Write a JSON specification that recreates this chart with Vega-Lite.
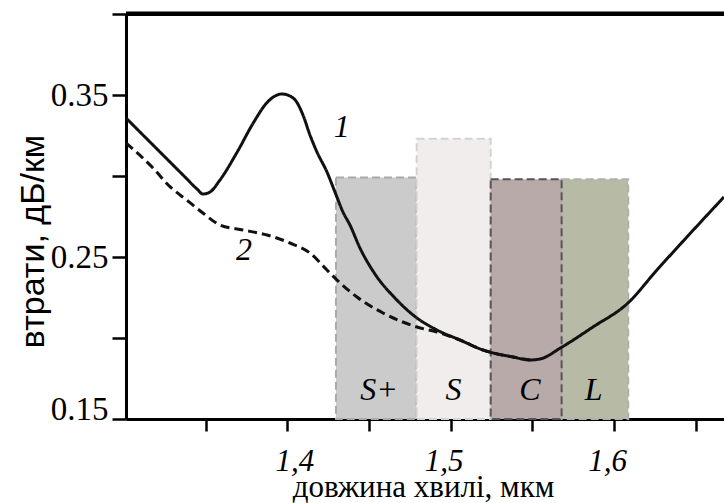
{
  "$schema": "https://vega.github.io/schema/vega-lite/v6.json",
  "autosize": {"type": "none"},
  "padding": {"left": 126, "top": 14, "right": 0, "bottom": 84},
  "width": 598,
  "height": 405,
  "background": "white",
  "config": {"view": {"stroke": null}},
  "datasets": {
    "bands": [
      {"band": "S+", "x0": 1.4298, "x1": 1.4792, "top": 0.299},
      {"band": "S", "x0": 1.4792, "x1": 1.5245, "top": 0.323},
      {"band": "L", "x0": 1.5679, "x1": 1.6087, "top": 0.298},
      {"band": "C", "x0": 1.5245, "x1": 1.5679, "top": 0.298}
    ],
    "curves": [
      {"curve": "1", "lambda": 1.30129, "loss": 0.3358},
      {"curve": "1", "lambda": 1.31291, "loss": 0.32407},
      {"curve": "1", "lambda": 1.32515, "loss": 0.31173},
      {"curve": "1", "lambda": 1.33739, "loss": 0.29938},
      {"curve": "1", "lambda": 1.34474, "loss": 0.29198},
      {"curve": "1", "lambda": 1.34841, "loss": 0.28889},
      {"curve": "1", "lambda": 1.35269, "loss": 0.29012},
      {"curve": "1", "lambda": 1.35881, "loss": 0.29753},
      {"curve": "1", "lambda": 1.36903, "loss": 0.3142},
      {"curve": "1", "lambda": 1.37919, "loss": 0.33272},
      {"curve": "1", "lambda": 1.38739, "loss": 0.34506},
      {"curve": "1", "lambda": 1.39247, "loss": 0.34938},
      {"curve": "1", "lambda": 1.39676, "loss": 0.35062},
      {"curve": "1", "lambda": 1.40165, "loss": 0.34938},
      {"curve": "1", "lambda": 1.40532, "loss": 0.3463},
      {"curve": "1", "lambda": 1.40961, "loss": 0.33765},
      {"curve": "1", "lambda": 1.41389, "loss": 0.32531},
      {"curve": "1", "lambda": 1.41818, "loss": 0.31481},
      {"curve": "1", "lambda": 1.4243, "loss": 0.30247},
      {"curve": "1", "lambda": 1.42919, "loss": 0.29012},
      {"curve": "1", "lambda": 1.43409, "loss": 0.27778},
      {"curve": "1", "lambda": 1.43837, "loss": 0.26975},
      {"curve": "1", "lambda": 1.44449, "loss": 0.25556},
      {"curve": "1", "lambda": 1.45367, "loss": 0.23951},
      {"curve": "1", "lambda": 1.46591, "loss": 0.22469},
      {"curve": "1", "lambda": 1.47938, "loss": 0.21235},
      {"curve": "1", "lambda": 1.49162, "loss": 0.20494},
      {"curve": "1", "lambda": 1.50569, "loss": 0.19877},
      {"curve": "1", "lambda": 1.51977, "loss": 0.19259},
      {"curve": "1", "lambda": 1.53813, "loss": 0.18827},
      {"curve": "1", "lambda": 1.54853, "loss": 0.18642},
      {"curve": "1", "lambda": 1.55465, "loss": 0.18704},
      {"curve": "1", "lambda": 1.56812, "loss": 0.19444},
      {"curve": "1", "lambda": 1.58709, "loss": 0.20679},
      {"curve": "1", "lambda": 1.60851, "loss": 0.2216},
      {"curve": "1", "lambda": 1.62626, "loss": 0.24198},
      {"curve": "1", "lambda": 1.64461, "loss": 0.26235},
      {"curve": "1", "lambda": 1.66727, "loss": 0.28704},
      {"curve": "2", "lambda": 1.30129, "loss": 0.32037},
      {"curve": "2", "lambda": 1.31781, "loss": 0.30494},
      {"curve": "2", "lambda": 1.32821, "loss": 0.2934},
      {"curve": "2", "lambda": 1.33843, "loss": 0.28519},
      {"curve": "2", "lambda": 1.34859, "loss": 0.27698},
      {"curve": "2", "lambda": 1.35881, "loss": 0.26975},
      {"curve": "2", "lambda": 1.37289, "loss": 0.26667},
      {"curve": "2", "lambda": 1.38758, "loss": 0.26358},
      {"curve": "2", "lambda": 1.40165, "loss": 0.25864},
      {"curve": "2", "lambda": 1.41389, "loss": 0.25247},
      {"curve": "2", "lambda": 1.4243, "loss": 0.24198},
      {"curve": "2", "lambda": 1.43042, "loss": 0.2358},
      {"curve": "2", "lambda": 1.44266, "loss": 0.22531},
      {"curve": "2", "lambda": 1.45857, "loss": 0.21543},
      {"curve": "2", "lambda": 1.47938, "loss": 0.20679},
      {"curve": "2", "lambda": 1.49162, "loss": 0.2037},
      {"curve": "2", "lambda": 1.50569, "loss": 0.19877},
      {"curve": "2", "lambda": 1.51977, "loss": 0.19259},
      {"curve": "2", "lambda": 1.53813, "loss": 0.18827},
      {"curve": "2", "lambda": 1.54853, "loss": 0.18642}
    ],
    "labels": [
      {"text": "S+", "lx": 1.4562, "ly": 0.168},
      {"text": "S", "lx": 1.5018, "ly": 0.168},
      {"text": "C", "lx": 1.5485, "ly": 0.168},
      {"text": "L", "lx": 1.5875, "ly": 0.168},
      {"text": "1", "lx": 1.4333, "ly": 0.33},
      {"text": "2", "lx": 1.3735, "ly": 0.2543}
    ],
    "frame": [{"edge": 0.399, "a": 1.3013, "b": 1.6673}]
  },
  "layer": [
    {
      "data": {"name": "bands"},
      "mark": {"type": "rect", "strokeDash": [8, 4], "strokeWidth": 2},
      "encoding": {
        "x": {
          "field": "x0", "type": "quantitative",
          "scale": {"domain": [1.3013, 1.6673], "nice": false, "zero": false},
          "axis": {
            "values": [1.35, 1.4, 1.45, 1.5, 1.55, 1.6, 1.65],
            "labelExpr": "round(datum.value*100) % 10 == 0 ? replace(format(datum.value, '.1f'), '.', ',') : ''",
            "labelFont": "Liberation Serif",
            "labelFontStyle": "italic",
            "labelFontSize": 31,
            "labelColor": "black",
            "labelPadding": 15,
            "labelOffset": {"condition": {"test": "datum.value < 1.45", "value": 7}, "value": -7},
            "tickSize": 12,
            "tickWidth": 2.5,
            "tickColor": "black",
            "domainColor": "black",
            "domainWidth": 3,
            "grid": false,
            "title": "довжина хвилі, мкм",
            "titleFont": "Liberation Serif",
            "titleFontSize": 31,
            "titleFontWeight": "normal",
            "titleColor": "black",
            "titleX": 297,
            "titleY": 77,
            "titleAlign": "center",
            "titleBaseline": "alphabetic"
          }
        },
        "x2": {"field": "x1"},
        "y": {
          "field": "top", "type": "quantitative",
          "scale": {"domain": [0.15, 0.4], "nice": false, "zero": false},
          "axis": {
            "values": [0.15, 0.2, 0.25, 0.3, 0.35, 0.4],
            "labelExpr": "indexof([15, 25, 35], round(datum.value*100)) >= 0 ? format(datum.value, '.2f') : ''",
            "labelFont": "Liberation Serif",
            "labelFontSize": 33,
            "labelColor": "black",
            "labelPadding": 4,
            "labelBaseline": {"condition": {"test": "datum.value < 0.17", "value": "alphabetic"}, "value": "middle"},
            "tickSize": 14,
            "tickWidth": 2.5,
            "tickColor": "black",
            "domainColor": "black",
            "domainWidth": 3,
            "grid": true,
            "gridColor": "black",
            "gridWidth": 3,
            "gridOpacity": {"condition": {"test": "datum.value > 0.39", "value": 1}, "value": 0},
            "title": "втрати, дБ/км",
            "titleFont": "Liberation Sans",
            "titleFontSize": 34,
            "titleFontWeight": "normal",
            "titleColor": "black",
            "titleAngle": -90,
            "titleX": -83,
            "titleY": 227,
            "titleAlign": "center",
            "titleBaseline": "alphabetic"
          }
        },
        "y2": {"datum": 0.15},
        "fill": {
          "field": "band", "type": "nominal", "legend": null,
          "scale": {"domain": ["S+", "S", "C", "L"], "range": ["#cbcbcb", "#f2eded", "#b9aaaa", "#b7bba5"]}
        },
        "stroke": {
          "field": "band", "type": "nominal", "legend": null,
          "scale": {"domain": ["S+", "S", "C", "L"], "range": ["#aaaaaa", "#d2d2d2", "#555555", "#b0b0b0"]}
        }
      }
    },
    {
      "data": {"name": "frame"},
      "mark": {"type": "rect", "color": "black"},
      "encoding": {
        "x": {"field": "a", "type": "quantitative"},
        "x2": {"field": "b"},
        "y": {"field": "edge", "type": "quantitative"},
        "y2": {"datum": 0.4015}
      }
    },
    {
      "data": {"name": "curves"},
      "mark": {"type": "line", "interpolate": "monotone", "strokeWidth": 3, "color": "#111111"},
      "encoding": {
        "x": {"field": "lambda", "type": "quantitative"},
        "y": {"field": "loss", "type": "quantitative"},
        "detail": {"field": "curve"},
        "strokeDash": {
          "field": "curve", "type": "nominal", "legend": null,
          "scale": {"domain": ["1", "2"], "range": [[1, 0], [9, 5]]}
        }
      }
    },
    {
      "data": {"name": "labels"},
      "mark": {"type": "text", "font": "Liberation Serif", "fontStyle": "italic", "fontSize": 32, "color": "black", "align": "center", "baseline": "middle"},
      "encoding": {
        "x": {"field": "lx", "type": "quantitative"},
        "y": {"field": "ly", "type": "quantitative"},
        "text": {"field": "text"}
      }
    }
  ]
}
